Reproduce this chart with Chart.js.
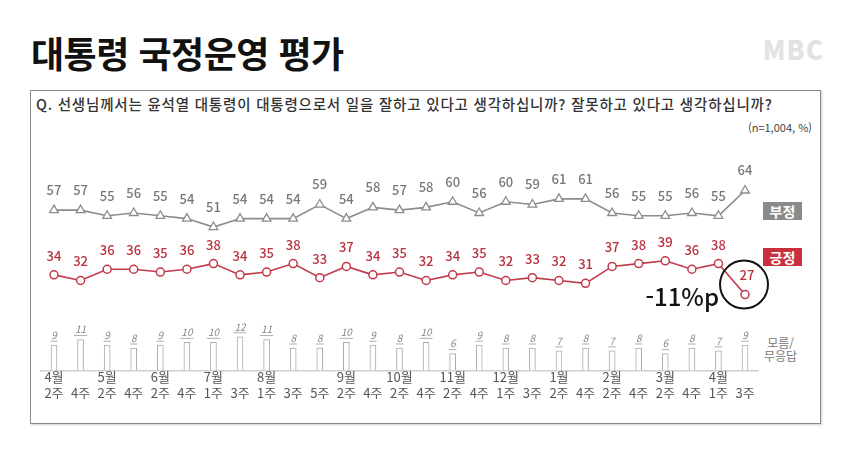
<!DOCTYPE html>
<html lang="ko">
<head>
  <meta charset="UTF-8">
  <title>대통령 국정운영 평가</title>
  <script src="https://cdn.jsdelivr.net/npm/chart.js"></script>
  <style>
    body {
      margin: 0;
      background: #ffffff;
      font-family: 'Noto Sans CJK KR', 'Noto Sans', sans-serif;
      width: 850px;
      height: 459px;
      overflow: hidden;
      position: relative;
    }
    .title {
      position: absolute;
      left: 31px;
      top: 26px;
      font-size: 36px;
      font-weight: 700;
      color: #111;
      letter-spacing: -0.5px;
    }
    .logo {
      position: absolute;
      right: 26px;
      top: 30px;
      font-size: 26px;
      font-weight: 900;
      color: #e2e2e2;
      letter-spacing: 1px;
    }
    .box {
      position: absolute;
      left: 30px;
      top: 90px;
      width: 789px;
      height: 332px;
      border: 1.5px solid #8a8a8a;
      box-shadow: 1px 1px 2px rgba(0,0,0,0.2);
    }
    .question {
      position: absolute;
      left: 36px;
      top: 93px;
      font-size: 14.5px;
      font-weight: 500;
      color: #333;
      letter-spacing: 0.8px;
    }
    .sample {
      position: absolute;
      right: 38px;
      top: 119px;
      font-size: 11px;
      color: #444;
    }
    .tag {
      position: absolute;
      left: 763px;
      width: 39px;
      height: 18px;
      line-height: 18px;
      text-align: center;
      font-size: 14px;
      font-weight: 700;
      color: #fff;
    }
    .dk { position: absolute; left: 764px; top: 336px; font-size: 12px; line-height: 13px; color: #777; text-align: center; }
    .wrap { position: absolute; left: 0; top: 0; width: 850px; height: 459px; }
  </style>
</head>
<body>
  <div class="title">대통령 국정운영 평가</div>
  <div class="logo">MBC</div>
  <div class="box"></div>
  <div class="question">Q. 선생님께서는 윤석열 대통령이 대통령으로서 일을 잘하고 있다고 생각하십니까? 잘못하고 있다고 생각하십니까?</div>
  <div class="sample">(n=1,004, %)</div>
  <div class="tag" style="top:202px;background:#8a8a8a;">부정</div>
  <div class="tag" style="top:248px;background:#c8303e;">긍정</div>
  <div class="dk">모름/<br>무응답</div>

  <div class="wrap"><canvas id="chart"></canvas></div>

  <script>
    // 조사 시점 (월 / 주)
    const months = ['4월', '', '5월', '', '6월', '', '7월', '', '8월', '', '', '9월', '', '10월', '',
                    '11월', '', '12월', '', '1월', '', '2월', '', '3월', '', '4월', ''];
    const weeks = ['2주', '4주', '2주', '4주', '2주', '4주', '1주', '3주', '1주', '3주', '5주', '2주', '4주', '2주', '4주',
                   '2주', '4주', '1주', '3주', '2주', '4주', '2주', '4주', '2주', '4주', '1주', '3주'];

    const negative = [57, 57, 55, 56, 55, 54, 51, 54, 54, 54, 59, 54, 58, 57, 58,
                      60, 56, 60, 59, 61, 61, 56, 55, 55, 56, 55, 64];
    const positive = [34, 32, 36, 36, 35, 36, 38, 34, 35, 38, 33, 37, 34, 35, 32,
                      34, 35, 32, 33, 32, 31, 37, 38, 39, 36, 38, 27];
    const unknown = [9, 11, 9, 8, 9, 10, 10, 12, 11, 8, 8, 10, 9, 8, 10,
                     6, 9, 8, 8, 7, 8, 7, 8, 6, 8, 7, 9];

    const labels = weeks.map((w, i) => [months[i], w]);

    const GRAY = '#8c8c8c';
    const RED = '#c23a48';
    const FONT = "'Noto Sans CJK KR', 'Noto Sans', sans-serif";

    // 값 라벨, -11%p 표시
    const valueLabels = {
      id: 'valueLabels',
      afterDatasetsDraw(chart) {
        const ctx = chart.ctx;
        ctx.save();
        ctx.textAlign = 'center';
        ctx.textBaseline = 'middle';

        // 무응답 막대
        const bars = chart.getDatasetMeta(2).data;
        ctx.font = 'italic 10px ' + FONT;
        ctx.fillStyle = '#888';
        ctx.strokeStyle = '#999';
        ctx.lineWidth = 0.8;
        bars.forEach((b, i) => {
          const txt = String(unknown[i]);
          const y = b.y - 10;
          ctx.fillText(txt, b.x, y);
          const w = ctx.measureText(txt).width;
          ctx.beginPath();
          ctx.moveTo(b.x - w / 2 - 1, y + 6);
          ctx.lineTo(b.x + w / 2 + 1, y + 6);
          ctx.stroke();
        });

        // 부정
        ctx.font = '500 13px ' + FONT;
        ctx.fillStyle = '#777';
        chart.getDatasetMeta(0).data.forEach((p, i) => {
          ctx.fillText(String(negative[i]), p.x, p.y - 20);
        });

        // 긍정
        ctx.fillStyle = '#b8323f';
        const pos = chart.getDatasetMeta(1).data;
        pos.forEach((p, i) => {
          const dx = i === pos.length - 1 ? 2 : 0;
          ctx.fillText(String(positive[i]), p.x + dx, p.y - 19);
        });

        // 마지막 긍정 포인트 강조
        const last = pos[pos.length - 1];
        ctx.strokeStyle = '#111';
        ctx.lineWidth = 2;
        ctx.beginPath();
        ctx.arc(last.x - 1, last.y - 10, 24, 0, Math.PI * 2);
        ctx.stroke();

        ctx.font = '500 24px ' + FONT;
        ctx.fillStyle = '#111';
        ctx.textAlign = 'right';
        ctx.fillText('-11%p', last.x - 26, last.y + 2);
        ctx.restore();
      }
    };

    new Chart(document.getElementById('chart'), {
      type: 'bar',
      data: {
        labels: labels,
        datasets: [
          {
            type: 'line',
            label: '부정',
            data: negative,
            borderColor: GRAY,
            borderWidth: 1.6,
            pointStyle: 'triangle',
            pointRadius: 5,
            pointBackgroundColor: '#fff',
            pointBorderColor: GRAY,
            pointBorderWidth: 1.3,
            tension: 0,
            order: 0
          },
          {
            type: 'line',
            label: '긍정',
            data: positive,
            borderColor: RED,
            borderWidth: 1.6,
            pointStyle: 'circle',
            pointRadius: 4,
            pointBackgroundColor: '#fff',
            pointBorderColor: RED,
            pointBorderWidth: 1.5,
            tension: 0,
            order: 0
          },
          {
            type: 'bar',
            label: '모름/무응답',
            data: unknown,
            backgroundColor: '#fff',
            borderColor: '#aaa',
            borderWidth: 1,
            barThickness: 6,
            order: 1
          }
        ]
      },
      options: {
        responsive: true,
        maintainAspectRatio: false,
        animation: false,
        layout: {
          padding: { left: 40.7, right: 91.7, top: 173.6, bottom: 60 }
        },
        plugins: {
          legend: { display: false },
          tooltip: { enabled: false }
        },
        scales: {
          x: {
            grid: { display: false, drawTicks: false },
            border: { display: true, color: '#cfcfcf', width: 1.5 },
            ticks: {
              autoSkip: false,
              maxRotation: 0,
              padding: -2,
              color: '#555',
              font: { family: FONT, size: 13, lineHeight: 1.25 }
            }
          },
          y: {
            display: false,
            min: 0,
            max: 70
          }
        }
      },
      plugins: [valueLabels]
    });
  </script>
</body>
</html>
